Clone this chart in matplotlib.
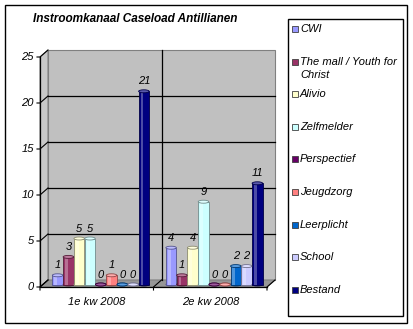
import numpy as np
import matplotlib
matplotlib.use('Agg')
import matplotlib.pyplot as plt
from matplotlib.patches import Polygon, Rectangle, Ellipse
from matplotlib.transforms import IdentityTransform, ScaledTranslation
from matplotlib.colors import to_rgb

plt.rcParams['font.family'] = ['Liberation Sans', 'DejaVu Sans']

title = 'Instroomkanaal Caseload Antillianen'
quarters = ['1e kw 2008', '2e kw 2008']
channels = ['CWI', 'The mall / Youth for\nChrist', 'Alivio', 'Zelfmelder',
            'Perspectief', 'Jeugdzorg', 'Leerplicht', 'School', 'Bestand']
colors = ['#9999FF', '#993366', '#FFFFCC', '#CCFFFF', '#660066',
          '#FF8080', '#0066CC', '#CCCCFF', '#000080']
counts = [[1, 4], [3, 1], [5, 4], [5, 9], [0, 0],
          [1, 0], [0, 2], [0, 2], [21, 11]]
yticks = [0, 5, 10, 15, 20, 25]

W, H = 413, 329
DX, DY = 8, 7          # depth of the 3d box in pixels


def fig_xy(x, y):
    # pixel position measured from top-left -> figure fraction
    return x / W, 1 - y / H


def mix(c, other, t):
    c, o = np.array(to_rgb(c)), np.array(to_rgb(other))
    return tuple(c * (1 - t) + o * t)


fig = plt.figure(figsize=(W / 100, H / 100), dpi=100)
fig.patch.set_facecolor('white')
ax = fig.add_axes([40 / W, 1 - 287 / H, 227 / W, 230 / H])
ax.set_xlim(-0.5, 1.5)
ax.set_ylim(0, 25)
ax.axis('off')


def px(x, y, d=0.0):
    return ax.transData.transform((x, y)) + np.array([DX * d, DY * d])


ident = IdentityTransform()
x0, x1 = -0.5, 1.5
ymax = yticks[-1]

# walls and floor
walls = [
    ([px(x0, 0, 1), px(x1, 0, 1), px(x1, ymax, 1), px(x0, ymax, 1)], '#C0C0C0'),
    ([px(x0, 0, 0), px(x0, 0, 1), px(x0, ymax, 1), px(x0, ymax, 0)], '#C8C8C8'),
    ([px(x0, 0, 0), px(x1, 0, 0), px(x1, 0, 1), px(x0, 0, 1)], '#969696'),
]
for pts, fc in walls:
    ax.add_patch(Polygon(pts, closed=True, facecolor=fc, edgecolor='#808080',
                         linewidth=0.8, transform=ident, clip_on=False, zorder=0))

# gridlines on the back wall + the left wall
for t in yticks[1:-1]:
    a, b = px(x0, t, 1), px(x1, t, 1)
    ax.add_line(plt.Line2D([a[0], b[0]], [a[1], b[1]], color='black', lw=0.9,
                           transform=ident, clip_on=False, zorder=1))
for t in yticks:
    a, b = px(x0, t, 0), px(x0, t, 1)
    ax.add_line(plt.Line2D([a[0] - 3, a[0], b[0]], [a[1], a[1], b[1]], color='black',
                           lw=0.8, transform=ident, clip_on=False, zorder=1))
    ax.text(a[0] - 6, a[1], str(t), transform=ident, ha='right', va='center',
            fontsize=8, style='italic')

# category divider on back wall and floor
b, c = px(0.5, 0, 1), px(0.5, ymax, 1)
ax.add_line(plt.Line2D([b[0], c[0]], [b[1], c[1]], color='black', lw=0.9,
                       transform=ident, clip_on=False, zorder=1))
for xv in [x0, 0.5, x1]:
    a, b = px(xv, 0, 0), px(xv, 0, 1)
    ax.add_line(plt.Line2D([a[0], a[0], b[0]], [a[1] - 3, a[1], b[1]], color='black',
                           lw=0.8, transform=ident, clip_on=False, zorder=1))

# axis lines
a, b, c = px(x0, 0), px(x1, 0), px(x0, ymax)
ax.add_line(plt.Line2D([c[0], a[0], b[0]], [c[1], a[1], b[1]], color='black', lw=0.9,
                       transform=ident, clip_on=False, zorder=2))

for i, q in enumerate(quarters):
    ax.text(i, -1.6, q, ha='center', va='center', fontsize=8, style='italic')

# cylinders, standing a little behind the front edge
mid = ax.transData + ScaledTranslation(4 / 100, 2.5 / 100, fig.dpi_scale_trans)
step, width = 0.095, 0.093
cap = 3.0 / (ax.transData.transform((0, 1))[1] - ax.transData.transform((0, 0))[1])
n = len(channels)
for i, (vals, col) in enumerate(zip(counts, colors)):
    edge = mix(col, 'black', 0.45)
    for j, v in enumerate(vals):
        x = j + (i - (n - 1) / 2) * step
        ax.add_patch(Ellipse((x, 0), width, cap, facecolor=col, edgecolor=edge,
                             lw=0.6, transform=mid, zorder=3))
        if v > 0:
            ax.bar(x, v, width, color=col, edgecolor=edge, linewidth=0.6,
                   transform=mid, zorder=3)
            ax.bar(x - width * 0.18, v, width * 0.28, color='white', alpha=0.3,
                   linewidth=0, transform=mid, zorder=3)
        ax.add_patch(Ellipse((x, v), width, cap, facecolor=mix(col, 'white', 0.35),
                             edgecolor=edge, lw=0.6, transform=mid, zorder=4))
        ax.annotate(str(v), (x, v), xycoords=mid, xytext=(0, 3.5),
                    textcoords='offset points', ha='center', va='bottom',
                    fontsize=8, style='italic', zorder=5)

fig.text(*fig_xy(33, 19), title, ha='left', va='center', fontsize=8.5,
         fontweight='bold', style='italic')

# legend
lx0, ly0 = fig_xy(288, 316)
lx1, ly1 = fig_xy(403, 19)
fig.add_artist(Rectangle((lx0, ly0), lx1 - lx0, ly1 - ly0, transform=fig.transFigure,
                         facecolor='white', edgecolor='black', linewidth=1))
for i, (name, col) in enumerate(zip(channels, colors)):
    yc = 29 + 32.6 * i
    sx, sy = fig_xy(292, yc + 3)
    fig.add_artist(Rectangle((sx, sy), 6 / W, 6 / H, transform=fig.transFigure,
                             facecolor=col, edgecolor='#404040', linewidth=0.6))
    extra = name.count('\n')
    tx, ty = fig_xy(300, yc + 7 * extra)
    fig.text(tx, ty, name, ha='left', va='center', fontsize=8, style='italic',
             linespacing=1.35)

# outer frame
fx0, fy0 = fig_xy(5, 323)
fx1, fy1 = fig_xy(407, 5)
fig.add_artist(Rectangle((fx0, fy0), fx1 - fx0, fy1 - fy0, transform=fig.transFigure,
                         facecolor='none', edgecolor='black', linewidth=1))

fig.savefig('out.png', dpi=100)
